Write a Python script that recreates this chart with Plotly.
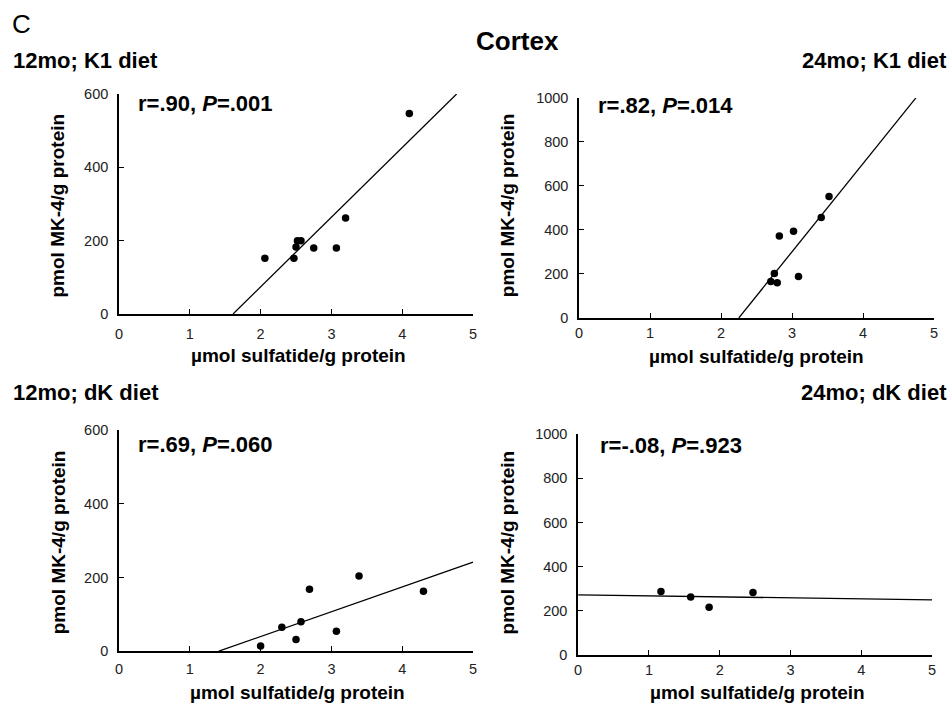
import plotly.graph_objects as go

# ---- data ----
panel_titles = ["12mo; K1 diet", "24mo; K1 diet", "12mo; dK diet", "24mo; dK diet"]
stat_text = ["r=.90, <i>P</i>=.001", "r=.82, <i>P</i>=.014", "r=.69, <i>P</i>=.060", "r=-.08, <i>P</i>=.923"]

x_12K1 = [2.06, 2.47, 2.50, 2.52, 2.57, 2.75, 3.07, 3.20, 4.10]
y_12K1 = [152, 152, 183, 200, 200, 180, 180, 262, 547]

x_24K1 = [2.70, 2.75, 2.79, 2.82, 3.02, 3.09, 3.41, 3.52]
y_24K1 = [165, 202, 160, 372, 394, 188, 456, 552]

x_12dK = [2.00, 2.30, 2.50, 2.57, 2.69, 3.07, 3.39, 4.30]
y_12dK = [14, 65, 32, 80, 168, 54, 204, 163]

x_24dK = [1.17, 1.59, 1.85, 2.47]
y_24dK = [288, 263, 217, 284]

fit_slope = [190.0, 401.0, 67.4, -4.6]
fit_intercept = [-306.0, -902.0, -95.0, 273.0]

y_max = [600, 1000, 600, 1000]
y_ticks = [[0, 200, 400, 600], [0, 200, 400, 600, 800, 1000],
           [0, 200, 400, 600], [0, 200, 400, 600, 800, 1000]]
x_ticks = [0, 1, 2, 3, 4, 5]

xs = [x_12K1, x_24K1, x_12dK, x_24dK]
ys = [y_12K1, y_24K1, y_12dK, y_24dK]

W, H = 952, 712
# plot areas in pixels (left, right, top, bottom)
boxes = [(116, 473, 88, 313), (580, 938, 92, 317), (116, 473, 432, 658), (579, 936, 436, 662)]
x_standoff = [6, 1, 4, 1]
stat_pos = [(133, 104), (597, 106), (133, 452), (599, 454)]
xtitle_pos = [(297, 355), (759, 356), (296, 700), (760, 700)]
ytitle_pos = [(53.5, 202), (508, 202), (55, 547), (508, 547)]
title_pos = [(7, 60, "left"), (953, 60, "right"), (7, 400, "left"), (953, 400, "right")]

FONT = "Liberation Sans, Arial, Helvetica, sans-serif"
fig = go.Figure()
layout = dict(width=W, height=H, margin=dict(l=0, r=0, t=0, b=0), autosize=False,
              paper_bgcolor="white", plot_bgcolor="white", showlegend=False,
              font=dict(family=FONT, color="#111"))
annotations = []


def px(x, y, size=0.0, k=0.29):
    # shift so the visible glyphs (not the line box) are centred on y
    return x / W, 1 - (y - k * size) / H


for i in range(4):
    xa = "x" if i == 0 else f"x{i+1}"
    ya = "y" if i == 0 else f"y{i+1}"
    l, r, t, b = boxes[i]
    axis_common = dict(showgrid=False, zeroline=False, showline=True, linecolor="black",
                       linewidth=1.6, ticks="inside", ticklen=5, tickwidth=1.3,
                       tickcolor="black",
                       tickfont=dict(family=FONT, size=14.5, color="#222"))
    layout["xaxis" if i == 0 else f"xaxis{i+1}"] = dict(
        domain=[l / W, r / W], range=[0, 5], tickvals=x_ticks, anchor=ya,
        ticklabelstandoff=x_standoff[i], **axis_common)
    layout["yaxis" if i == 0 else f"yaxis{i+1}"] = dict(
        domain=[1 - b / H, 1 - t / H], range=[0, y_max[i]], tickvals=y_ticks[i], anchor=xa,
        ticklabelstandoff=6, **axis_common)

    fig.add_trace(go.Scatter(x=xs[i], y=ys[i], mode="markers", xaxis=xa, yaxis=ya,
                             marker=dict(color="black", size=7.5), cliponaxis=False))
    # fitted regression line, clipped to the axis range
    m, c = fit_slope[i], fit_intercept[i]
    x0, x1 = 0.0, 5.0
    if m > 0:
        x0 = max(0.0, -c / m)
        x1 = min(5.0, (y_max[i] - c) / m)
    fig.add_trace(go.Scatter(x=[x0, x1], y=[m * x0 + c, m * x1 + c], mode="lines",
                             xaxis=xa, yaxis=ya, line=dict(color="black", width=1.3)))

    sx, sy = px(*stat_pos[i], size=22, k=0.27)
    annotations.append(dict(xref="paper", yref="paper", x=sx, y=sy,
                            xanchor="left", yanchor="middle", showarrow=False,
                            text=f"<b>{stat_text[i]}</b>", font=dict(size=22, color="black")))
    tx, ty = px(*xtitle_pos[i])
    annotations.append(dict(xref="paper", yref="paper", x=tx, y=ty,
                            xanchor="center", yanchor="middle",
                            showarrow=False, text="<b>µmol sulfatide/g protein</b>",
                            font=dict(size=19, color="black")))
    vx, vy = px(*ytitle_pos[i])
    annotations.append(dict(xref="paper", yref="paper", x=vx, y=vy,
                            xanchor="center", yanchor="middle",
                            showarrow=False, textangle=-90, text="<b>pmol MK-4/g protein</b>",
                            font=dict(size=19, color="black")))
    p_x, p_y, anc = title_pos[i]
    ax_, ay_ = px(p_x, p_y, size=22, k=0.3)
    annotations.append(dict(xref="paper", yref="paper", x=ax_, y=ay_, xanchor=anc,
                            yanchor="middle", showarrow=False, text=f"<b>{panel_titles[i]}</b>",
                            font=dict(size=22, color="black")))

cx, cy = px(6, 23, size=26, k=0.27)
annotations.append(dict(xref="paper", yref="paper", x=cx, y=cy, xanchor="left",
                        yanchor="middle", showarrow=False, text="C",
                        font=dict(size=26, color="black")))
kx, ky = px(518, 41, size=26, k=0.27)
annotations.append(dict(xref="paper", yref="paper", x=kx, y=ky, xanchor="center",
                        yanchor="middle", showarrow=False, text="<b>Cortex</b>",
                        font=dict(size=26, color="black")))

layout["annotations"] = annotations
fig.update_layout(**layout)
fig.write_html("out.html", config={"displayModeBar": False},
               post_script="document.body.style.margin='0';document.body.style.overflow='hidden';")
